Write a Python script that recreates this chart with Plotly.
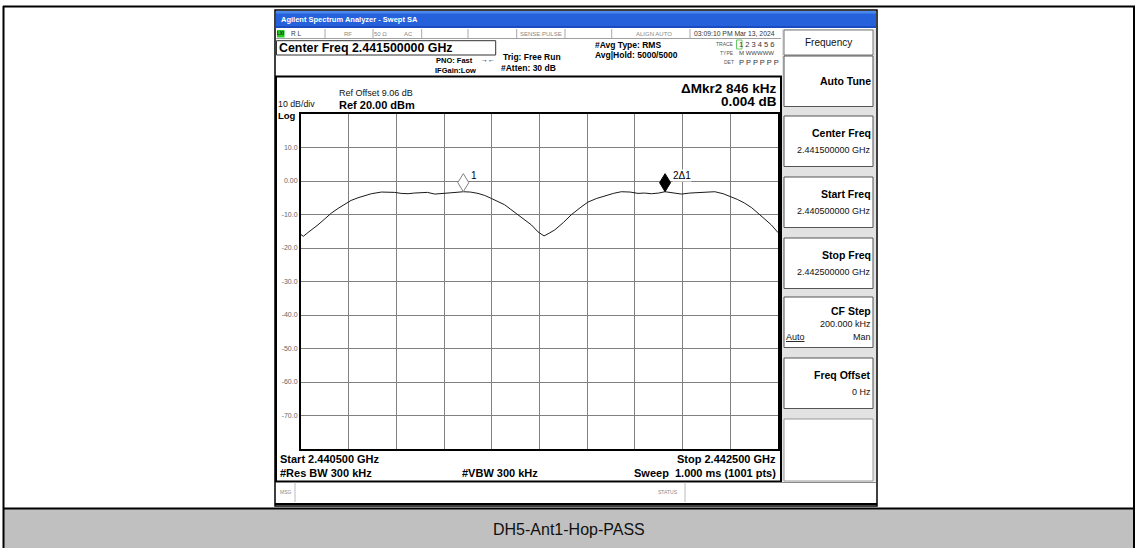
import plotly.graph_objects as go

W, H = 1137, 548

# ---------------- data ----------------
freq_mhz = [2440.500, 2440.510, 2440.529, 2440.550, 2440.571, 2440.600, 2440.627, 2440.655,
            2440.683, 2440.710, 2440.739, 2440.770, 2440.795, 2440.837, 2440.870, 2440.893,
            2440.920, 2440.949, 2440.975, 2441.004, 2441.030, 2441.061, 2441.090, 2441.116,
            2441.150, 2441.180, 2441.210, 2441.242, 2441.270, 2441.298, 2441.325, 2441.354,
            2441.380, 2441.410, 2441.440, 2441.466, 2441.494, 2441.519, 2441.540, 2441.564,
            2441.600, 2441.633, 2441.670, 2441.703, 2441.740, 2441.773, 2441.810, 2441.843,
            2441.880, 2441.913, 2441.940, 2441.969, 2442.000, 2442.026, 2442.060, 2442.095,
            2442.130, 2442.165, 2442.200, 2442.235, 2442.270, 2442.304, 2442.330, 2442.360,
            2442.390, 2442.416, 2442.445, 2442.472, 2442.500]
level_dbm = [-16.0, -16.5, -15.4, -14.3, -13.1, -11.3, -9.6, -8.2,
             -6.9, -5.8, -5.0, -4.3, -3.8, -3.3, -3.3, -3.4,
             -3.7, -3.8, -3.6, -3.5, -3.4, -3.9, -3.8, -3.5,
             -3.4, -3.2, -3.3, -3.7, -4.3, -5.2, -6.0, -7.1,
             -8.5, -10.1, -11.7, -13.1, -15.2, -16.4, -15.6, -14.6,
             -12.4, -10.1, -8.0, -6.3, -5.2, -4.4, -3.7, -3.2,
             -3.3, -3.7, -3.6, -3.8, -3.6, -3.2, -3.6, -3.9,
             -3.6, -3.4, -3.2, -3.2, -3.8, -4.7, -5.5, -6.6,
             -8.0, -9.6, -11.3, -13.1, -15.4]

x_start, x_stop, x_div = 2440.5, 2442.5, 0.2
ref_level, db_per_div, n_div = 20, 10, 10
y_tick_vals = [10, 0, -10, -20, -30, -40, -50, -60, -70]
y_tick_text = ["10.0", "0.00", "-10.0", "-20.0", "-30.0", "-40.0", "-50.0", "-60.0", "-70.0"]

marker_freq = [2441.1805, 2442.0265]
marker_level = [-3.18, -3.176]
marker_labels = ["1", "2\u03941"]

softkey_titles = ["Auto Tune", "Center Freq", "Start Freq", "Stop Freq", "CF Step", "Freq Offset"]
softkey_values = ["", "2.441500000 GHz", "2.440500000 GHz", "2.442500000 GHz", "200.000 kHz", "0 Hz"]
softkey_tops = [56, 116, 177, 238, 297, 358]

caption = "DH5-Ant1-Hop-PASS"

FONT = "Liberation Sans"

# ---------------- helpers ----------------
shapes = []
annots = []


def px(x):
    return x / W


def py(y):
    return 1 - y / H


def rect(x0, y0, x1, y1, fill=None, line=None, lw=1.0):
    shapes.append(dict(type="rect", xref="paper", yref="paper",
                       x0=px(x0), x1=px(x1), y0=py(y1), y1=py(y0),
                       fillcolor=fill if fill else "rgba(0,0,0,0)",
                       line=dict(color=line if line else "rgba(0,0,0,0)", width=lw if line else 0),
                       layer="below"))


def seg(x0, y0, x1, y1, color="#000", lw=1.0):
    shapes.append(dict(type="line", xref="paper", yref="paper",
                       x0=px(x0), x1=px(x1), y0=py(y0), y1=py(y1),
                       line=dict(color=color, width=lw), layer="below"))


def txt(x, y, s, size=9, color="#000", bold=False, xa="left", ya="middle", family=FONT, bg=None):
    d = dict(x=px(x), y=py(y), xref="paper", yref="paper", text=s, showarrow=False,
             xanchor=xa, yanchor=ya, borderpad=0,
             font=dict(size=size, color=color, family=family, weight="bold" if bold else "normal"))
    if bg:
        d["bgcolor"] = bg
    annots.append(d)


# ---------------- outer table ----------------
rect(4, 509, 1134, 548, fill="#c0c0c0")
seg(3, 6.5, 1135, 6.5, lw=2)
seg(3.5, 6, 3.5, 548, lw=2)
seg(1134, 6, 1134, 548, lw=2)
seg(3, 508.5, 1135, 508.5, lw=2)
txt(568.5, 529.5, caption, size=16, color="#111", xa="center")

# ---------------- screenshot frame ----------------
rect(275, 10, 877, 506, fill="#ffffff", line="#000", lw=1.5)
# title bar
rect(276, 11, 876, 28, fill="#2461db")
rect(276, 11, 876, 13.5, fill="#4a88ee")
rect(276, 26, 876, 28, fill="#1a4cc0")
txt(280, 19.5, "Agilent Spectrum Analyzer - Swept SA", size=7.5, color="#ffffff", bold=True)

# status row
seg(276, 38.5, 781, 38.5, color="#a0a0a0", lw=1)
for xd in [325, 373, 421.7, 468, 516.7, 565, 611.7, 690]:
    seg(xd, 29, xd, 38.5, color="#a8a8a8", lw=1)
rect(277, 30, 284.5, 37.5, fill="#22cc22")
txt(280.8, 33.8, "LXI", size=4.5, color="#113311", bold=True, xa="center")
txt(290, 33.8, "R L", size=6.5, color="#333")
txt(348, 33.8, "RF", size=6, color="#888", xa="center")
txt(380, 33.8, "50 \u03a9", size=6, color="#888", xa="center")
txt(408, 33.8, "AC", size=6, color="#888", xa="center")
txt(541, 33.8, "SENSE:PULSE", size=6, color="#888", xa="center")
txt(654, 33.8, "ALIGN AUTO", size=6, color="#888", xa="center")
txt(693, 33.8, "03:09:10 PM Mar 13, 2024", size=6.8, color="#333")

# header block
rect(276.5, 40.7, 495.7, 55, line="#333", lw=1)
txt(278, 47.8, "Center Freq 2.441500000 GHz", size=12.4, color="#000", bold=True)
txt(474, 60.5, "PNO: Fast", size=7.5, bold=True, xa="right")
txt(480, 60.0, "\u2192\u2190", size=7, color="#000")
txt(476.5, 70.5, "IFGain:Low", size=7.5, bold=True, xa="right")
txt(501.5, 57, "Trig: Free Run", size=8.5, bold=True)
txt(500, 68, "#Atten: 30 dB", size=8.5, bold=True)
txt(594, 44.5, "#Avg Type: RMS", size=8.5, bold=True)
txt(594, 55, "Avg|Hold: 5000/5000", size=8.5, bold=True)
txt(735, 44.3, "TRACE", size=5, color="#555", xa="right")
txt(735, 53.3, "TYPE", size=5, color="#555", xa="right")
txt(735, 62.3, "DET", size=5, color="#555", xa="right")
rect(736.5, 40, 742, 49, line="#66cc66", lw=1)
txt(737.5, 44.8, "1 2 3 4 5 6", size=7.5, color="#333")
txt(737.5, 53.3, "M WWWWW", size=6, color="#444")
txt(737.5, 62.3, "P P P P P P", size=7.5, color="#333")

# graph panel
rect(276, 76.5, 781, 481.5, fill="#ffffff", line="#000", lw=2)
txt(337.5, 93.3, "Ref Offset 9.06 dB", size=9, color="#111")
txt(337.5, 105, "Ref 20.00 dBm", size=11, bold=True)
txt(277, 104.3, "10 dB/div", size=8.8, color="#111")
txt(277, 115.2, "Log", size=9.5, bold=True)
txt(777.5, 88.5, "\u0394Mkr2 846 kHz", size=13.5, bold=True, xa="right")
txt(777.5, 101.5, "0.004 dB", size=13.5, bold=True, xa="right")
txt(279, 459, "Start 2.440500 GHz", size=11, bold=True)
txt(776.5, 459, "Stop 2.442500 GHz", size=11, bold=True, xa="right")
txt(278.5, 472.7, "#Res BW 300 kHz", size=11, bold=True)
txt(461, 472.7, "#VBW 300 kHz", size=11, bold=True)
txt(776.5, 472.7, "Sweep  1.000 ms (1001 pts)", size=11, bold=True, xa="right")

# MSG row
seg(276, 482.5, 876, 482.5, color="#888", lw=1)
seg(295, 482.5, 295, 502, color="#bbb", lw=1)
seg(685, 482.5, 685, 502, color="#bbb", lw=1)
txt(279, 492, "MSG", size=5, color="#888")
txt(657, 492, "STATUS", size=5, color="#888")
seg(275, 504, 877, 504, color="#000", lw=2)

# softkey panel
rect(782, 29, 876, 481.5, fill="#e2e2e2")
rect(784, 30, 873, 55, fill="#ffffff", line="#777", lw=1)
txt(828.5, 42.3, "Frequency", size=10, color="#111", xa="center")
for i, top in enumerate(softkey_tops):
    bottom = top + 50.5
    rect(784, top, 873, bottom, fill="#ffffff", line="#555", lw=1)
    title = softkey_titles[i]
    value = softkey_values[i]
    if not value:
        txt(871.5, top + 25, title, size=10.5, bold=True, xa="right")
    elif title == "CF Step":
        txt(871.5, top + 14, title, size=10.5, bold=True, xa="right")
        txt(871.5, top + 26.5, value, size=9, color="#111", xa="right")
        txt(785, top + 39.5, "<u>Auto</u>", size=9, color="#111")
        txt(871.5, top + 39.5, "Man", size=9, color="#111", xa="right")
    else:
        txt(871.5, top + 17, title, size=10.5, bold=True, xa="right")
        txt(871.5, top + 34, value, size=9, color="#111", xa="right")
rect(784, 419, 873, 481, fill="#ffffff", line="#999", lw=1)

# ---------------- the spectrum ----------------
fig = go.Figure()
fig.add_trace(go.Scatter(x=freq_mhz, y=level_dbm, mode="lines",
                         line=dict(color="#1a1a1a", width=1), hoverinfo="skip", showlegend=False))

# marker diamonds (drawn above the marker point, tip on the trace)
hw = 5.5 / 477 * (x_stop - x_start)      # half width in MHz (5.5 px)
hh = 18 / 335 * (db_per_div * n_div)     # height in dB (18 px)
for i, (mf, ml) in enumerate(zip(marker_freq, marker_level)):
    path = (f"M {mf},{ml} L {mf + hw},{ml + hh / 2} L {mf},{ml + hh} "
            f"L {mf - hw},{ml + hh / 2} Z")
    if i == 0:
        shapes.append(dict(type="path", xref="x", yref="y", path=path,
                           fillcolor="#ffffff", line=dict(color="#808080", width=1), layer="above"))
    else:
        shapes.append(dict(type="path", xref="x", yref="y", path=path,
                           fillcolor="#000000", line=dict(color="#000000", width=1), layer="above"))
    annots.append(dict(x=mf, y=ml, xref="x", yref="y", text=marker_labels[i], showarrow=False,
                       xanchor="left", yanchor="middle", xshift=7, yshift=16, borderpad=0,
                       bgcolor="#ffffff" if i == 1 else None,
                       font=dict(size=10, color="#000", family=FONT)))

fig.update_layout(
    width=W, height=H, autosize=False,
    margin=dict(l=0, r=0, t=0, b=0, pad=0),
    paper_bgcolor="#ffffff", plot_bgcolor="#ffffff",
    shapes=shapes, annotations=annots, showlegend=False,
    xaxis=dict(domain=[px(301), px(778)], range=[x_start, x_stop],
               tick0=x_start, dtick=x_div, showticklabels=False, ticks="",
               showgrid=True, gridcolor="#808080", gridwidth=1.2, zeroline=False,
               showline=True, mirror=True, linecolor="#000", linewidth=2, fixedrange=True),
    yaxis=dict(domain=[py(449), py(114)], range=[ref_level - db_per_div * n_div, ref_level],
               tickmode="array", tickvals=y_tick_vals, ticktext=y_tick_text,
               tickfont=dict(size=7, color="#666", family=FONT), ticks="",
               showgrid=False, zeroline=False,
               showline=True, mirror=True, linecolor="#000", linewidth=2, fixedrange=True),
    yaxis2=dict(overlaying="y", range=[ref_level - db_per_div * n_div, ref_level],
                tick0=ref_level, dtick=db_per_div, showticklabels=False, ticks="",
                showgrid=True, gridcolor="#808080", gridwidth=1.2, zeroline=False,
                showline=False, fixedrange=True, matches="y"),
)
fig.add_trace(go.Scatter(x=[x_start], y=[ref_level], yaxis="y2", mode="markers",
                         marker=dict(size=0, opacity=0), hoverinfo="skip", showlegend=False))

fig.write_html("out.html", config={"displayModeBar": False},
               post_script="document.body.style.margin='0px';document.body.style.overflow='hidden';")
